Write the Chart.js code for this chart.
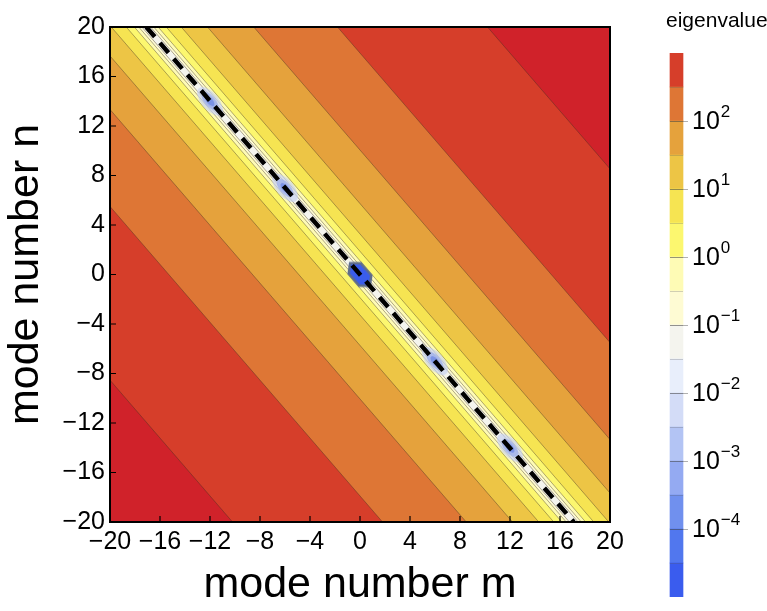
<!DOCTYPE html>
<html>
<head>
<meta charset="utf-8">
<script src="https://cdn.jsdelivr.net/npm/chart.js@4.4.0/dist/chart.umd.min.js"></script>
<style>
  body { margin: 0; background: #fff; }
  #wrap { position: relative; width: 767px; height: 611px; }
  #main { position: absolute; left: 0; top: 0; }
  #bar { position: absolute; left: 640px; top: 0; }
</style>
</head>
<body>
<div id="wrap">
  <canvas id="main" width="640" height="611"></canvas>
  <canvas id="bar" width="127" height="611"></canvas>
</div>
<script>
// colour levels, log10(eigenvalue), bottom to top of the colour bar
const levelExp = [-5, -4.5, -4, -3.5, -3, -2.5, -2, -1.5, -1, -0.5, 0, 0.5, 1, 1.5, 2, 2.5, 3];
const bandColors = ['#3A5CEE', '#5177EE', '#7090EE', '#94AAF2', '#B3C4F4', '#D3DCF7', '#E8EEFB', '#F4F4EE',
                    '#FEFBD3', '#FEFBB5', '#FCF76F', '#F6E452', '#EDC545', '#E5A23C', '#DE7635', '#D63E2A'];
const aboveColor = '#D0222A';
const cbTicks = [-4, -3, -2, -1, 0, 1, 2];

// dashed line (eigenvalue -> 0), end points
const lineM = [-17.1, 17.1];
const lineN = [20, -20];

// contour boundaries: half width (in m) of each band around the dashed line
const contourExp = [3, 2.5, 2, 1.5, 1, 0.5, 0, -0.5, -1];
const contourHalfWidth = [27.3, 15.3, 8.6, 4.9, 2.8, 1.6, 0.95, 0.6, 0.35];

// lattice points sitting on the line
const zeroM = [-12, -6, 0, 6, 12];
const zeroN = [14, 7, 0, -7, -14];
const zeroDeep = [false, false, true, false, false];

const FONT = "'Liberation Sans', Arial, sans-serif";
const minus = s => String(s).replace('-', '\u2212');

// point images for the blobs
function blobImage(deep) {
  const c = document.createElement('canvas');
  c.width = 44; c.height = 44;
  const g = c.getContext('2d');
  g.translate(22, 22);
  g.rotate(49 * Math.PI / 180);
  if (deep) {
    g.beginPath();
    g.moveTo(-15, 0); g.lineTo(-8, -8); g.lineTo(8, -8);
    g.lineTo(15, 0); g.lineTo(8, 8); g.lineTo(-8, 8);
    g.closePath();
    g.fillStyle = '#3A5DEB';
    g.fill();
    g.lineWidth = 2.5;
    g.strokeStyle = '#5E6D8C';
    g.stroke();
  } else {
    g.beginPath();
    g.ellipse(0, 0, 17, 8.5, 0, 0, Math.PI * 2);
    g.fillStyle = 'rgba(200,210,240,0.7)';
    g.fill();
    g.beginPath();
    g.ellipse(0, 0, 11, 5.5, 0, 0, Math.PI * 2);
    g.fillStyle = 'rgba(160,178,234,0.8)';
    g.fill();
    g.beginPath();
    g.ellipse(0, 0, 6, 3, 0, 0, Math.PI * 2);
    g.fillStyle = 'rgba(115,140,228,0.85)';
    g.fill();
  }
  return c;
}
const deepBlob = blobImage(true);
const lightBlob = blobImage(false);

// bands, widest first so the narrower ones sit on top
const bandSets = contourExp.map((e, i) => {
  const d = contourHalfWidth[i];
  return {
    data: [
      { x: lineM[0] - d, y: lineN[0] }, { x: lineM[0] + d, y: lineN[0] },
      { x: lineM[1] + d, y: lineN[1] }, { x: lineM[1] - d, y: lineN[1] },
      { x: lineM[0] - d, y: lineN[0] }
    ],
    showLine: true,
    fill: 'shape',
    backgroundColor: bandColors[levelExp.indexOf(e) - 1],
    borderColor: 'rgba(60,45,35,0.5)',
    borderWidth: 0.8,
    pointRadius: 0,
    clip: 0,
    order: 100 - i
  };
});

const frame = {
  id: 'frame',
  beforeDatasetsDraw(chart) {
    const { ctx, chartArea: a } = chart;
    ctx.save();
    ctx.fillStyle = aboveColor;
    ctx.fillRect(a.left, a.top, a.right - a.left, a.bottom - a.top);
    ctx.restore();
  },
  afterDatasetsDraw(chart) {
    const { ctx, chartArea: a, scales: { x, y } } = chart;
    ctx.save();
    ctx.strokeStyle = '#000';
    ctx.lineWidth = 2;
    ctx.strokeRect(a.left, a.top, a.right - a.left, a.bottom - a.top);
    ctx.lineWidth = 1.2;
    ctx.beginPath();
    x.ticks.forEach(t => {
      const px = x.getPixelForValue(t.value);
      ctx.moveTo(px, a.bottom); ctx.lineTo(px, a.bottom - 6);
    });
    y.ticks.forEach(t => {
      const py = y.getPixelForValue(t.value);
      ctx.moveTo(a.left, py); ctx.lineTo(a.left + 6, py);
    });
    ctx.stroke();
    ctx.restore();
  }
};

const axisOpts = (title, fit) => ({
  type: 'linear', min: -20, max: 20,
  grid: { display: false, drawTicks: false },
  border: { display: false },
  ticks: { stepSize: 4, autoSkip: false, maxRotation: 0, color: '#000', padding: 5,
           font: { family: FONT, size: 25 }, callback: v => minus(v) },
  title: { display: true, text: title, color: '#000', padding: { top: 0, bottom: 0 },
           font: { family: FONT, size: 43 } },
  afterFit: fit
});

new Chart(document.getElementById('main'), {
  type: 'scatter',
  data: {
    datasets: [
      ...bandSets,
      {
        data: zeroM.map((m, i) => ({ x: m, y: zeroN[i] })),
        pointStyle: ctx => zeroDeep[ctx.dataIndex] ? deepBlob : lightBlob,
        pointRadius: 6,
        showLine: false,
        clip: 0,
        order: 1
      },
      {
        data: lineM.map((m, i) => ({ x: m, y: lineN[i] })),
        showLine: true,
        borderColor: '#000',
        borderWidth: 4.5,
        borderDash: [13, 8],
        pointRadius: 0,
        fill: false,
        order: 0
      }
    ]
  },
  options: {
    responsive: false,
    animation: false,
    events: [],
    layout: { padding: { top: 27, right: 30, left: 0, bottom: 0 } },
    plugins: { legend: { display: false }, tooltip: { enabled: false } },
    scales: {
      x: axisOpts('mode number m', s => { s.height = 89; }),
      y: axisOpts('mode number n', s => { s.width = 110; })
    }
  },
  plugins: [frame]
});

// colour bar
const cbLabels = {
  id: 'cbLabels',
  afterDatasetsDraw(chart) {
    const { ctx, chartArea: a, scales: { y } } = chart;
    const bx0 = (a.left + a.right) / 2 - 6.5, bx1 = bx0 + 13;
    ctx.save();
    ctx.lineWidth = 0.8;
    ctx.strokeStyle = 'rgba(90,90,90,0.35)';
    ctx.beginPath();
    levelExp.slice(1, -1).forEach(e => {
      const py = Math.round(y.getPixelForValue(e)) + 0.5;
      ctx.moveTo(bx0, py); ctx.lineTo(bx1, py);
    });
    ctx.stroke();
    ctx.strokeStyle = 'rgba(60,60,60,0.5)';
    ctx.beginPath();
    cbTicks.forEach(e => {
      const py = Math.round(y.getPixelForValue(e)) + 0.5;
      ctx.moveTo(bx0, py); ctx.lineTo(bx1 + 5, py);
    });
    ctx.stroke();
    ctx.fillStyle = '#000';
    ctx.textBaseline = 'middle';
    cbTicks.forEach(e => {
      const py = y.getPixelForValue(e);
      ctx.font = `25px ${FONT}`;
      ctx.fillText('10', 52, py + 1);
      const w = ctx.measureText('10').width;
      ctx.font = `17px ${FONT}`;
      ctx.fillText(minus(e), 52 + w + 1, py - 9);
    });
    ctx.font = `21px ${FONT}`;
    ctx.textBaseline = 'alphabetic';
    ctx.fillText('eigenvalue', 26, 27);
    ctx.restore();
  }
};

new Chart(document.getElementById('bar'), {
  type: 'bar',
  data: {
    labels: [''],
    datasets: bandColors.map((c, i) => ({
      data: [[levelExp[i], levelExp[i + 1]]],
      backgroundColor: c,
      borderWidth: 0,
      barThickness: 13,
      grouped: false
    }))
  },
  options: {
    responsive: false,
    animation: false,
    events: [],
    layout: { padding: { top: 53, bottom: 14, left: 24, right: 78 } },
    plugins: { legend: { display: false }, tooltip: { enabled: false } },
    scales: {
      x: { display: false },
      y: { display: false, min: -5, max: 3 }
    }
  },
  plugins: [cbLabels]
});
</script>
</body>
</html>
